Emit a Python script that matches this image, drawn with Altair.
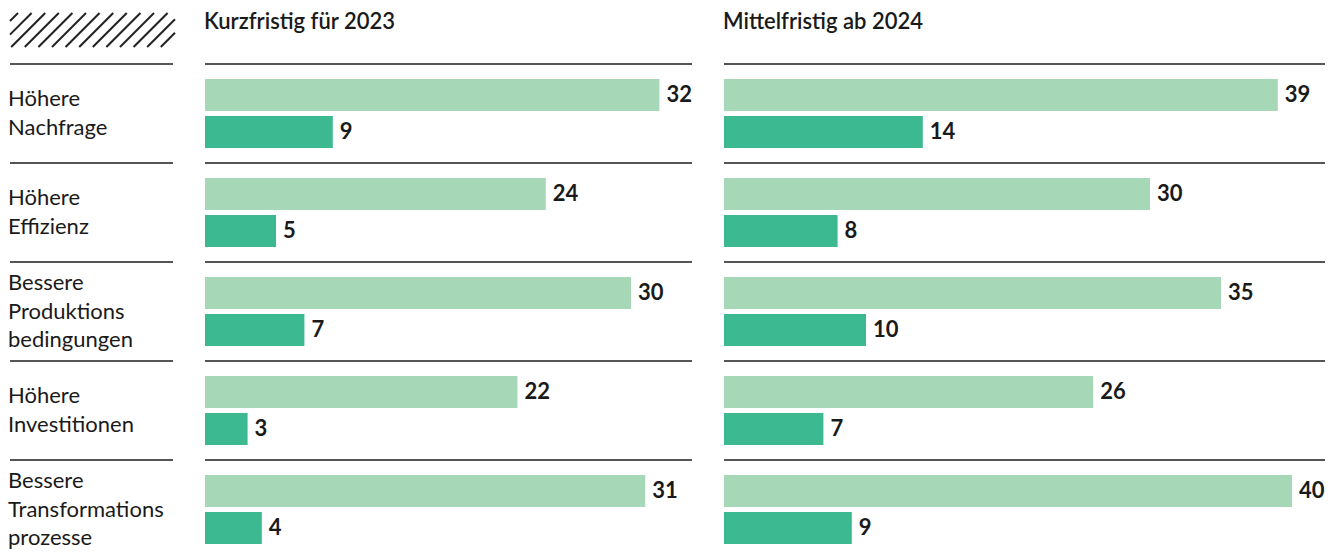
import altair as alt
import pandas as pd

FONT = "Lato"
TEXT_COLOR = "#1a1a1a"
RULE_COLOR = "#555555"

categories = ["Höhere Nachfrage", "Höhere Effizienz", "Bessere Produktionsbedingungen",
              "Höhere Investitionen", "Bessere Transformationsprozesse"]
category_labels = ["Höhere\nNachfrage", "Höhere\nEffizienz", "Bessere\nProduktions\nbedingungen",
                   "Höhere\nInvestitionen", "Bessere\nTransformations\nprozesse"]
series = ["Serie hell", "Serie dunkel"]
series_colors = ["#a6d8b7", "#3cb990"]

kurz_hell = [32, 24, 30, 22, 31]
kurz_dunkel = [9, 5, 7, 3, 4]
mittel_hell = [39, 30, 35, 26, 40]
mittel_dunkel = [14, 8, 10, 7, 9]

titles = ["Kurzfristig für 2023", "Mittelfristig ab 2024"]

PX_PER_UNIT = 14.2
ROW = 99
N = len(categories)
PLOT_H = 482
FS = 22
LINE_H = 28.5


def y_enc(**kw):
    return alt.Y("cat:N", sort=categories, axis=None,
                 scale=alt.Scale(range=[0, ROW * N], paddingInner=0, paddingOuter=0), **kw)


def panel(title, hell, dunkel, width):
    xmax = width / PX_PER_UNIT
    rows = []
    for c, a, b in zip(categories, hell, dunkel):
        rows.append({"cat": c, "series": series[0], "value": a})
        rows.append({"cat": c, "series": series[1], "value": b})
    df = pd.DataFrame(rows)
    xs = alt.Scale(domain=[0, xmax], nice=False, zero=True)
    yoff = alt.YOffset("series:N", sort=series,
                       scale=alt.Scale(paddingInner=0.135, paddingOuter=0.405))
    base = alt.Chart(df)
    bars = base.mark_bar().encode(
        x=alt.X("value:Q", scale=xs, axis=None),
        y=y_enc(),
        yOffset=yoff,
        color=alt.Color("series:N", scale=alt.Scale(domain=series, range=series_colors), legend=None),
    )
    vals = base.mark_text(align="left", baseline="middle", dx=7, fontSize=FS, fontWeight="bold",
                          font=FONT, color=TEXT_COLOR).encode(
        x=alt.X("value:Q", scale=xs, axis=None),
        y=y_enc(),
        yOffset=yoff,
        text="value:Q",
    )
    rules = alt.Chart(pd.DataFrame({"cat": categories})).mark_rule(
        color=RULE_COLOR, strokeWidth=2).encode(
        y=y_enc(bandPosition=0),
        x=alt.value(0),
        x2=alt.value(width),
    )
    return alt.layer(rules, bars, vals).properties(
        width=width, height=PLOT_H,
        title=alt.Title(title, anchor="start", fontSize=FS, fontWeight=600, font=FONT,
                        color=TEXT_COLOR, baseline="alphabetic", offset=12),
    )


# label column: rows on a linear row-index scale; hatch decoration above the first row
LW = 165
HW, HH, HSTEP = 165, 34, 13.6
hatch = []
for k in range(14):
    t = -26 + HSTEP * k
    x0 = max(t, 0)
    x1 = min(t + HH, HW)
    if x1 - x0 > 1:
        hatch.append({"x": x0, "y": -(17 + (x0 - t)) / ROW,
                      "x2": x1, "y2": -(17 + (x1 - t)) / ROW})
hatch_df = pd.DataFrame(hatch)

ys = alt.Scale(domain=[0, N], range=[0, ROW * N], nice=False, zero=False)
hatch_layer = alt.Chart(hatch_df).mark_rule(color="#222222", strokeWidth=2).encode(
    x=alt.X("x:Q", scale=alt.Scale(domain=[0, HW], range=[2, 2 + HW]), axis=None),
    x2="x2:Q",
    y=alt.Y("y:Q", scale=ys, axis=None),
    y2="y2:Q",
)
cat_df = pd.DataFrame({"cat": categories, "label": category_labels,
                       "row": list(range(N)),
                       "nlines": [len(s.split("\n")) for s in category_labels]})
label_rules = alt.Chart(cat_df).mark_rule(color=RULE_COLOR, strokeWidth=2).encode(
    y=alt.Y("row:Q", scale=ys, axis=None),
    x=alt.value(2),
    x2=alt.value(LW),
)


def label_layer(n):
    return alt.Chart(cat_df).transform_filter(f"datum.nlines == {n}").transform_calculate(
        mid="datum.row + 0.5").mark_text(
        align="left", baseline="middle", lineBreak="\n", lineHeight=LINE_H, fontSize=FS,
        font=FONT, color=TEXT_COLOR, dy=-(n - 1) * LINE_H / 2).encode(
        x=alt.value(0),
        y=alt.Y("mid:Q", scale=ys, axis=None),
        text="label:N",
    )


label_panel = alt.layer(hatch_layer, label_rules, label_layer(2), label_layer(3)).properties(
    width=LW, height=PLOT_H)

pA = panel(titles[0], kurz_hell, kurz_dunkel, 487)
pB = panel(titles[1], mittel_hell, mittel_dunkel, 601)

chart = alt.hconcat(label_panel, pA, pB, spacing=32, bounds="flush").properties(
    padding={"left": 0, "top": 3, "right": 0, "bottom": 0}
).configure(font=FONT, view=alt.ViewConfig(stroke=None))

chart.save("out.html", embed_options={"renderer": "svg", "actions": False})
